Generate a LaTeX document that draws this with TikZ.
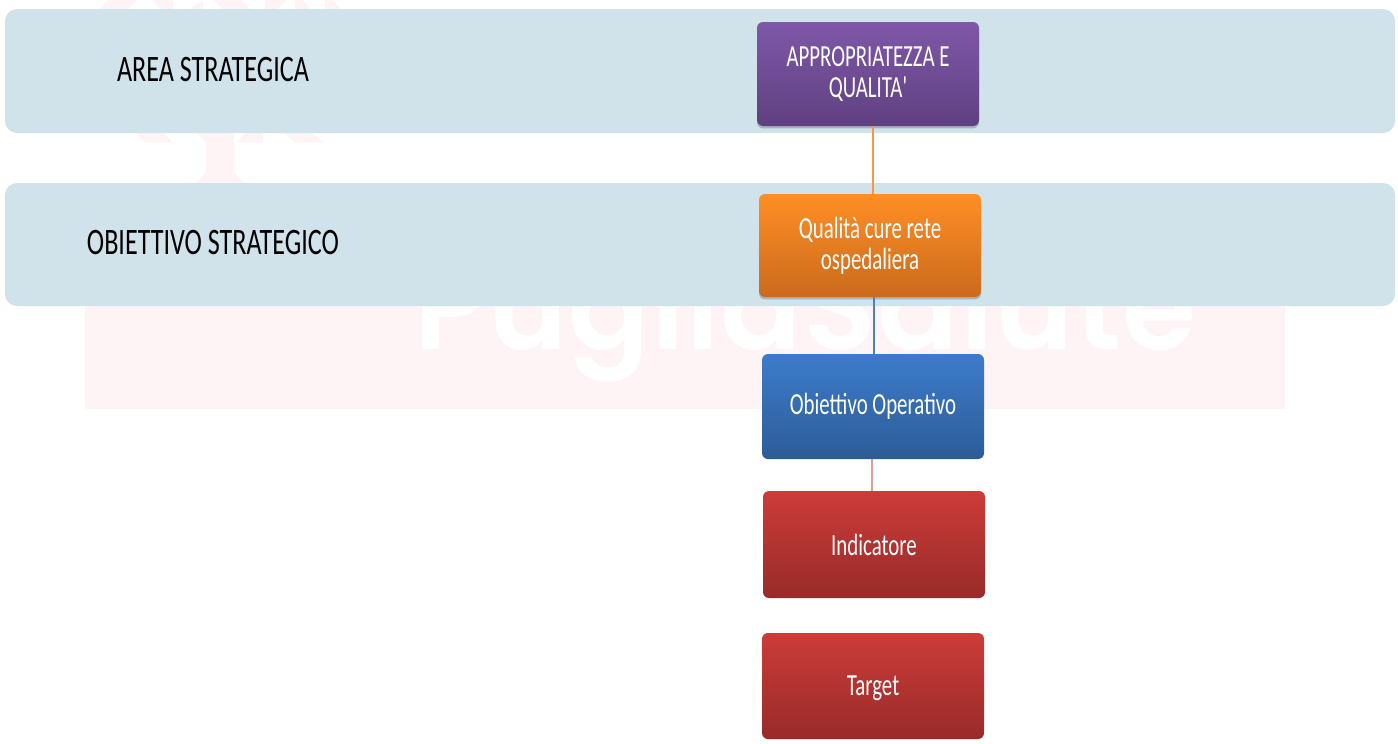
\documentclass[tikz,border=0pt]{standalone}
\usepackage{fontspec}
\setmainfont{Carlito}
\newfontfamily\wmfont{Poppins}[UprightFont=* SemiBold,LetterSpace=1.0]
\usetikzlibrary{shadows}
\definecolor{band}{HTML}{D0E2EA}
\definecolor{wm}{HTML}{FFF4F5}
\definecolor{purpleT}{HTML}{7F58A8}
\definecolor{purpleB}{HTML}{5F4080}
\definecolor{orangeT}{HTML}{FF8F26}
\definecolor{orangeB}{HTML}{C96A1C}
\definecolor{blueT}{HTML}{3D7CCB}
\definecolor{blueB}{HTML}{2C5C97}
\definecolor{redT}{HTML}{CC3C39}
\definecolor{redB}{HTML}{982B29}
\definecolor{linkO}{HTML}{F79646}
\definecolor{linkB}{HTML}{4F81BD}
\definecolor{linkR}{HTML}{E09A9A}
\newcommand{\nar}[1]{\scalebox{.68}[1]{#1}}
\newcommand{\narb}[1]{\scalebox{.70}[1]{#1}}
\tikzset{
  x=0.75pt,y=-0.75pt,
  bandbox/.style={fill=band,rounded corners=9pt,draw=none},
  boxbase/.style={rounded corners=4.5pt,draw=none,inner sep=0pt,align=center,text=white,
    font=\fontsize{23}{23.5}\selectfont,minimum width=166.5pt},
  softshadow/.style={drop shadow={shadow xshift=0pt,shadow yshift=-1.8pt,opacity=.3,fill=black!70}},
  bandtext/.style={text=black,font=\fontsize{28}{28}\selectfont,inner sep=0pt},
  link/.style={line width=1.5pt},
}
\begin{document}
\begin{tikzpicture}
\useasboundingbox (0,0) rectangle (1398,743);
\fill[white] (0,0) rectangle (1398,743);
% watermark
\fill[wm] (85,190) rectangle (1285,409);
\node[anchor=base west,inner sep=0pt,text=white,font=\wmfont\fontsize{90}{90}\selectfont] (wmark) at (414,349) {PugliaSalute};
\fill[wm] (135,133) -- (163,133) -- (173,142.6) -- (145,142.6) -- cycle;
\fill[wm] (245,133) -- (263,133) -- (263,142.6) -- (237,142.6) -- cycle;
\fill[wm] (285,133) -- (312,133) -- (323,142.6) -- (295,142.6) -- cycle;
\fill[wm] (197,133) -- (234,133) -- (234,172) -- (244,183) -- (196,183) -- (206,172) -- (206,142.6) -- cycle;
\fill[wm] (108,0) -- (137,0) -- (128,9) -- (100,9) -- cycle;
\fill[wm] (152,0) -- (173,0) -- (173,9) -- (161,9) -- cycle;
\fill[wm] (203,0) -- (203,9) -- (190,9) -- cycle;
\fill[wm] (213,0) -- (241,0) -- (250,9) -- (222,9) -- cycle;
\fill[wm] (265,0) -- (287,0) -- (277,9) -- (265,9) -- cycle;
\fill[wm] (295,0) -- (303,0) -- (310,9) -- (295,9) -- cycle;
\fill[wm] (325,0) -- (333,0) -- (340,9) -- (325,9) -- cycle;
% bands
\path[bandbox] (5,9) rectangle (1395,133);
\path[bandbox] (5,183) rectangle (1395,306);
\node[bandtext] (areal) at (213,69.5) {\narb{AREA STRATEGICA}};
\node[bandtext] (obl) at (213,243) {\narb{OBIETTIVO STRATEGICO}};
% connector x positions
\coordinate (ca) at (873,0);
\coordinate (cb) at (874,0);
\coordinate (cc) at (872,0);
% boxes
\node[boxbase,softshadow,minimum height=78pt,top color=purpleT,bottom color=purpleB] (purple) at (868,74) {\nar{APPROPRIATEZZA E}\\\nar{QUALITA\textquotesingle}};
\node[boxbase,softshadow,minimum height=77.25pt,top color=orangeT,bottom color=orangeB] (orange) at (870,245.5) {\nar{Qualità cure rete}\\\nar{ospedaliera}};
\node[boxbase,minimum height=78.75pt,top color=blueT,bottom color=blueB] (blue) at (873,406.5) {\nar{Obiettivo Operativo}};
\node[boxbase,minimum height=80.25pt,top color=redT,bottom color=redB] (ind) at (874,544.5) {\nar{Indicatore}};
\node[boxbase,minimum height=79.5pt,top color=redT,bottom color=redB,text depth=0pt] (tgt) at (873,686) {\nar{Target}};
% connectors
\draw[link,color=linkO] (purple.south -| ca) -- (orange.north -| ca);
\draw[link,color=linkB] (orange.south -| cb) -- (blue.north -| cb);
\draw[link,color=linkR] (blue.south -| cc) -- (ind.north -| cc);
\end{tikzpicture}
\end{document}
